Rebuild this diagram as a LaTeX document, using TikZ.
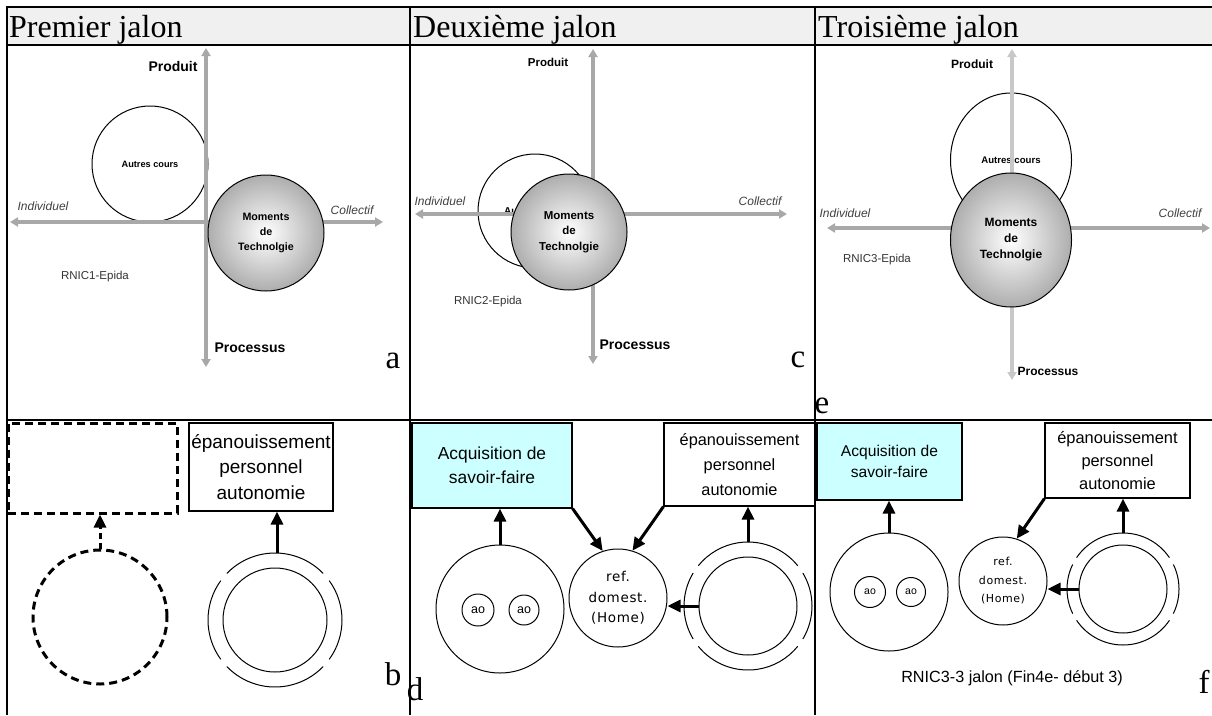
\documentclass[tikz,border=0pt]{standalone}
\usepackage{fontspec}
\setmainfont{Liberation Serif}
\newfontfamily\arialf{Liberation Sans}
\newfontfamily\genf[LetterSpace=5]{DejaVu Sans}
\usetikzlibrary{arrows.meta,shapes.geometric}
\definecolor{acqcol}{RGB}{204,255,255}
\definecolor{axiscol}{RGB}{168,168,168}
\definecolor{axislight}{RGB}{200,200,200}
\definecolor{hdrcol}{RGB}{240,240,240}
\newcommand{\fsz}[2]{\fontsize{#1}{#2}\selectfont}
% gapped ring: center node anchor, radius (with unit), gap angle from horizontal
\newcommand{\gapring}[3]{%
  \draw[ringline] ([shift={({#3+4}:#2)}]#1) arc[start angle={#3+4}, end angle={176-#3}, radius=#2];
  \draw[ringline] ([shift={({184-#3}:#2)}]#1) arc[start angle={184-#3}, end angle={176+#3}, radius=#2];
  \draw[ringline] ([shift={({184+#3}:#2)}]#1) arc[start angle={184+#3}, end angle={356-#3}, radius=#2];
  \draw[ringline] ([shift={({4-#3}:#2)}]#1) arc[start angle={4-#3}, end angle={#3-4}, radius=#2];
}
\begin{document}
\begin{tikzpicture}[x=1pt,y=-1pt,
  gridline/.style={line width=2pt,black},
  title/.style={anchor=base west,font=\fsz{32}{36},inner sep=0},
  letter/.style={anchor=base,font=\fsz{33}{36},inner sep=0},
  axis/.style={line width=3.5pt,axiscol,{Triangle[length=8pt,width=9pt]}-{Triangle[length=8pt,width=9pt]}},
  axisl/.style={axis,axislight},
  axlab/.style={font=\arialf\bfseries\fsz{14}{16},inner sep=0},
  dirlab/.style={font=\arialf\itshape\fsz{12}{14},text=black!75,inner sep=0},
  rnic/.style={font=\arialf\fsz{11.5}{14},text=black!80,inner sep=0},
  circ/.style={circle,draw,line width=1pt,inner sep=0,align=center},
  ball/.style={circle,draw,line width=1pt,inner sep=0,align=center,shading=radial,inner color=white,outer color=black!32},
  ringline/.style={line width=1pt,black},
  box/.style={rectangle,draw,line width=1.2pt,inner sep=0,align=center},
  arr/.style={line width=3pt,-{Triangle[length=13pt,width=12pt]}},
  dashbox/.style={rectangle,draw,line width=3pt,dash pattern=on 8pt off 5pt,inner sep=0}
]
\useasboundingbox (0,0) rectangle (1212,715);
% table
\fill[hdrcol] (7,7) rectangle (1212,45);
\draw[gridline] (6,7) -- (1212,7);
\draw[gridline] (7,45) -- (1212,45);
\draw[gridline] (7,420) -- (1212,420);
\draw[gridline] (7,6) -- (7,715);
\draw[gridline] (410,7) -- (410,715);
\draw[gridline] (815,7) -- (815,715);
\node[title] (t1) at (9,37) {Premier jalon};
\node[title] (t2) at (413,37) {Deuxième jalon};
\node[title] (t3) at (818,37) {Troisième jalon};

% ---------- panel a ----------
\node[circ,minimum size=116pt,font=\arialf\bfseries\fsz{9.2}{11}] (autA) at (150,164) {Autres cours};
\coordinate (aN) at (206,48); \coordinate (aS) at (206,367);
\coordinate (aW) at (10,222); \coordinate (aE) at (383,222);
\draw[axis] (aN) -- (aS);
\draw[axis] (aW) -- (aE);
\node[ball,minimum size=116pt,font=\arialf\bfseries\fsz{10.7}{15}] (momA) at (266,233) {Moments\\de\\Technolgie};
\node[axlab] (prodA) at (173,66) {Produit};
\node[axlab] (procA) at (250,348) {Processus};
\node[dirlab] (indA) at (43,206) {Individuel};
\node[dirlab] (colA) at (352,210) {Collectif};
\node[rnic] (rnA) at (95,277) {RNIC1-Epida};
\node[letter] (la) at (393,368) {a};

% ---------- panel c ----------
\node[circ,minimum size=114pt,font=\arialf\bfseries\fsz{10}{12}] (autC) at (535,211) {Autres cours};
\coordinate (cN) at (593,49); \coordinate (cS) at (593,364);
\coordinate (cW) at (415,214); \coordinate (cE) at (787,214);
\draw[axis] (cN) -- (cS);
\draw[axis] (cW) -- (cE);
\node[ball,minimum size=116pt,font=\arialf\bfseries\fsz{11.5}{15.5}] (momC) at (569,232) {Moments\\de\\Technolgie};
\node[axlab,font=\arialf\bfseries\fsz{11.5}{14}] (prodC) at (548,62) {Produit};
\node[axlab] (procC) at (635,345) {Processus};
\node[dirlab] (indC) at (440,201) {Individuel};
\node[dirlab] (colC) at (760,201) {Collectif};
\node[rnic] (rnC) at (488,302) {RNIC2-Epida};
\node[letter] (lc) at (798,367) {c};

% ---------- panel e ----------
\node[ellipse,draw,line width=1pt,minimum width=121pt,minimum height=134pt,inner sep=0,font=\arialf\bfseries\fsz{9.6}{12}] (autE) at (1011,160) {Autres cours};
\coordinate (eN) at (1012,49); \coordinate (eS) at (1012,380);
\coordinate (eW) at (827,228); \coordinate (eE) at (1210,228);
\draw[axisl] (eN) -- (eS);
\draw[axis] (eW) -- (eE);
\node[ellipse,draw,line width=1pt,minimum width=121pt,minimum height=134pt,inner sep=0,align=center,shading=radial,inner color=white,outer color=black!32,font=\arialf\bfseries\fsz{12}{16}] (momE) at (1011,240) {Moments\\de\\Technolgie};
\node[axlab,font=\arialf\bfseries\fsz{12}{14}] (prodE) at (972,64) {Produit};
\node[axlab,font=\arialf\bfseries\fsz{12}{14}] (procE) at (1048,371) {Processus};
\node[dirlab] (indE) at (845,213) {Individuel};
\node[dirlab] (colE) at (1180,213) {Collectif};
\node[rnic] (rnE) at (877,260) {RNIC3-Epida};
\node[letter] (le) at (822,413) {e};

% ---------- panel b ----------
\node[dashbox,minimum width=169pt,minimum height=90pt] (emptyB) at (92.5,468) {};
\node[circle,draw,line width=3pt,dash pattern=on 8pt off 5pt,minimum size=134pt,inner sep=0] (dashcB) at (100,617) {};
\draw[arr,dash pattern=on 6pt off 4pt] (dashcB.north) -- (dashcB.north |- emptyB.south);
\node[box,minimum width=144pt,minimum height=88pt,font=\arialf\fsz{19}{25.5}] (epB) at (261,467) {épanouissement\\personnel\\autonomie};
\node[circ,minimum size=104pt] (inB) at (275,620) {};
\gapring{inB.center}{67pt}{40}
\coordinate (ringBn) at (277,553);
\draw[arr] (ringBn) -- (ringBn |- epB.south);
\node[letter] (lb) at (393,685) {b};

% ---------- panel d ----------
\node[box,fill=acqcol,minimum width=160pt,minimum height=85pt,font=\arialf\fsz{17.4}{24}] (acqD) at (492,465.5) {Acquisition de\\savoir-faire};
\node[box,minimum width=151pt,minimum height=83pt,font=\arialf\fsz{16.3}{25}] (epD) at (739.5,464.5) {épanouissement\\personnel\\autonomie};
\node[circ,minimum size=128pt] (bigD) at (500,609) {};
\node[circ,minimum size=32pt,font=\arialf\fsz{12.5}{14}] (ao1D) at (478,610) {ao};
\node[circ,minimum size=30pt,font=\arialf\fsz{12.5}{14}] (ao2D) at (524,610) {ao};
\node[circ,minimum size=98pt,font=\genf\fsz{13.5}{20.5}] (refD) at (618,598) {ref.\\domest.\\(Home)};
\node[circ,minimum size=98pt] (inD) at (748,606) {};
\gapring{inD.center}{64pt}{35}
\coordinate (ringDn) at (748,542);
\draw[arr] (bigD.north) -- (bigD.north |- acqD.south);
\draw[arr] (acqD.south east) -- (refD.108);
\draw[arr] (epD.south west) -- (refD.73);
\draw[arr] (ringDn) -- (ringDn |- epD.south);
\draw[arr] (inD.west) -- (refD.east |- inD.west);
\node[letter] (ld) at (415,700) {d};

% ---------- panel f ----------
\node[box,fill=acqcol,minimum width=145pt,minimum height=77pt,font=\arialf\fsz{15.6}{20.7}] (acqF) at (889.5,461.5) {Acquisition de\\savoir-faire};
\node[box,minimum width=145pt,minimum height=75pt,font=\arialf\fsz{16.4}{23}] (epF) at (1117.5,460.5) {épanouissement\\personnel\\autonomie};
\node[circ,minimum size=118pt] (bigF) at (889,592) {};
\node[circ,minimum size=31pt,font=\arialf\fsz{10.5}{12}] (ao1F) at (870,592) {ao};
\node[circ,minimum size=29pt,font=\arialf\fsz{10.5}{12}] (ao2F) at (911,592) {ao};
\node[circ,minimum size=88pt,font=\genf\fsz{11}{18.5}] (refF) at (1003,581) {ref.\\domest.\\(Home)};
\node[circ,minimum size=88pt] (inF) at (1123,589) {};
\gapring{inF.center}{56pt}{30}
\coordinate (ringFn) at (1123,533);
\draw[arr] (bigF.north) -- (bigF.north |- acqF.south);
\draw[arr] (epF.south west) -- (refF.72);
\draw[arr] (ringFn) -- (ringFn |- epF.south);
\draw[arr] (inF.west) -- (refF.east |- inF.west);
\node[font=\arialf\fsz{16.2}{18},inner sep=0] (capF) at (1012,678) {RNIC3-3 jalon (Fin4e- début 3)};
\node[letter] (lf) at (1204,693) {f};
\end{tikzpicture}
\end{document}
